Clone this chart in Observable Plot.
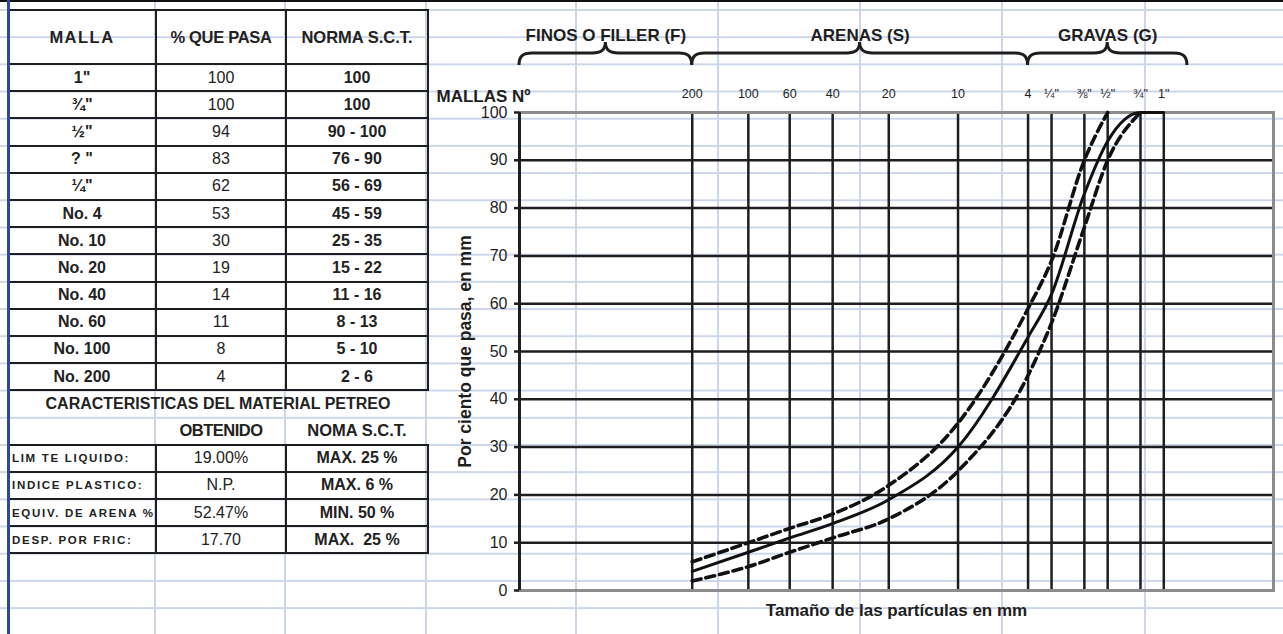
<!DOCTYPE html>
<html><head><meta charset="utf-8">
<script src="https://cdn.jsdelivr.net/npm/d3@7"></script>
<script src="https://cdn.jsdelivr.net/npm/@observablehq/plot@0.6"></script>
<style>
html,body{margin:0;padding:0;background:#fff;}
#page{position:relative;width:1283px;height:634px;overflow:hidden;font-family:"Liberation Sans",Arial,sans-serif;
 background-image:linear-gradient(#cdd6e8 0 2px, transparent 2px);background-size:100% 27.2px;background-position:0 9px;}
.vline{position:absolute;top:0;height:634px;width:2px;background:#cdd6e8;}
#topline{position:absolute;left:0;top:0;width:1283px;height:2px;background:#111;z-index:3;}
#bluebar{position:absolute;left:7px;top:0;width:2.5px;height:634px;background:#2a4b9b;z-index:3;}
#chart svg{position:absolute;left:0;top:0;}
#tbl{position:absolute;left:7px;top:9px;border-collapse:collapse;table-layout:fixed;z-index:2;color:#222;}
#tbl td{padding:0;text-align:center;vertical-align:middle;font-size:16px;white-space:pre;overflow:hidden;}
#tbl td.b{border:2px solid #1e1e1e;}
#tbl tr{height:27.2px;}
#tbl tr.h{height:54px;}
#tbl .bold{font-weight:bold;}
#tbl td.hd{font-size:16.5px;font-weight:bold;}
#tbl td.prop{text-align:left;padding-left:3px;font-size:11.5px;font-weight:bold;letter-spacing:1.7px;}
</style>
</head><body>
<div id="page">
  <div id="grid"></div>
  <div id="chart"></div>
  <table id="tbl"><colgroup><col style="width:148px"><col style="width:130px"><col style="width:142px"></colgroup><tbody id="tb"></tbody></table>
  <div id="topline"></div>
  <div id="bluebar"></div>
</div>
<script>
// ---- data ----
const sieveMM = [25.4, 19.05, 12.7, 9.525, 6.35, 4.75, 2.0, 0.85, 0.425, 0.25, 0.15, 0.075];
const sieveAxisLabels = ['1"', '¾"', '½"', '⅜"', '¼"', '4', '10', '20', '40', '60', '100', '200'];
const mallaLabels = ['1"', '¾"', '½"', '? "', '¼"', 'No. 4', 'No. 10', 'No. 20', 'No. 40', 'No. 60', 'No. 100', 'No. 200'];
const pctPasa = [100, 100, 94, 83, 62, 53, 30, 19, 14, 11, 8, 4];
const normMin = [100, 100, 90, 76, 56, 45, 25, 15, 11, 8, 5, 2];
const normMax = [100, 100, 100, 90, 69, 59, 35, 22, 16, 13, 10, 6];
const yTicks = [0, 10, 20, 30, 40, 50, 60, 70, 80, 90, 100];
const propNames = ["LIM TE LIQUIDO:", "INDICE PLASTICO:", "EQUIV. DE ARENA %", "DESP. POR FRIC:"];
const propObtained = ["19.00%", "N.P.", "52.47%", "17.70"];
const propNorm = ["MAX. 25 %", "MAX. 6 %", "MIN. 50 %", "MAX.  25 %"];
const groupNames = ["FINOS O FILLER (F)", "ARENAS (S)", "GRAVAS (G)"];
const groupFrom = [0.00888, 0.075, 4.75];
const groupTo = [0.075, 4.75, 34];
const xDomain = [0.00888, 98.5];

// ---- spreadsheet grid columns ----
const gridCols = [155, 285, 426, 576, 718, 860, 1002, 1145];
const gridEl = document.getElementById("grid");
gridCols.forEach(x => { const d = document.createElement("div"); d.className = "vline"; d.style.left = (x - 1) + "px"; gridEl.appendChild(d); });

// ---- table ----
const tb = document.getElementById("tb");
function addRow(cells, cls) {
  const tr = document.createElement("tr"); if (cls) tr.className = cls;
  cells.forEach(c => { const td = document.createElement("td"); td.textContent = c.t; td.className = c.c || ""; if (c.span) td.colSpan = c.span; tr.appendChild(td); });
  tb.appendChild(tr);
}
addRow([{t: "MALLA", c: "b hd"}, {t: "% QUE PASA", c: "b hd"}, {t: "NORMA S.C.T.", c: "b hd"}], "h");
tb.lastChild.children[0].style.letterSpacing = "1.5px";
tb.lastChild.children[1].style.letterSpacing = "-0.3px";
mallaLabels.forEach((m, i) => {
  const norma = normMin[i] === normMax[i] ? String(normMax[i]) : normMin[i] + " - " + normMax[i];
  addRow([{t: m, c: "b bold"}, {t: String(pctPasa[i]), c: "b"}, {t: norma, c: "b bold"}]);
});
addRow([{t: "CARACTERISTICAS DEL MATERIAL PETREO", c: "bold", span: 3}]);
addRow([{t: ""}, {t: "OBTENIDO", c: "hd"}, {t: "NOMA S.C.T.", c: "hd"}]);
tb.lastChild.children[1].style.letterSpacing = "-0.5px";
propNames.forEach((p, i) => addRow([{t: p, c: "b prop"}, {t: propObtained[i], c: "b"}, {t: propNorm[i], c: "b bold"}]));

// ---- chart ----
const rows = sieveMM.map((mm, i) => ({mm, pct: pctPasa[i], lo: normMin[i], hi: normMax[i], label: sieveAxisLabels[i]}));
const rowsAsc = rows.slice().sort((a, b) => a.mm - b.mm);
function upToFirst100(key) {
  const idx = rowsAsc.findIndex(r => r[key] >= 100);
  return rowsAsc.slice(0, idx + 1);
}
const groups = groupNames.map((name, i) => ({name, from: groupFrom[i], to: groupTo[i]}));

const plot = Plot.plot({
  width: 1283, height: 634,
  marginLeft: 519, marginRight: 10, marginTop: 112, marginBottom: 44,
  style: {background: "transparent", fontFamily: "'Liberation Sans', Arial, sans-serif", color: "#1e1e1e", overflow: "visible"},
  x: {type: "log", domain: xDomain, axis: null},
  y: {domain: [0, 100], axis: null},
  marks: [
    Plot.ruleY(yTicks.filter(v => v > 0 && v < 100), {stroke: "#1e1e1e", strokeWidth: 2.5}),
    Plot.ruleX(sieveMM, {stroke: "#1e1e1e", strokeWidth: 2.5}),
    Plot.frame({stroke: "#8c8c8c", strokeWidth: 3}),
    Plot.ruleX([xDomain[0]], {stroke: "#1e1e1e", strokeWidth: 3}),
    Plot.line(rowsAsc, {x: "mm", y: "pct", curve: "monotone-x", stroke: "#111", strokeWidth: 3}),
    Plot.line(upToFirst100("hi"), {x: "mm", y: "hi", curve: "monotone-x", stroke: "#111", strokeWidth: 3.6, strokeDasharray: "9,5"}),
    Plot.line(upToFirst100("lo"), {x: "mm", y: "lo", curve: "monotone-x", stroke: "#111", strokeWidth: 3.6, strokeDasharray: "9,5"}),
    Plot.axisY(yTicks, {tickSize: 5, tickPadding: 7, fontSize: 16, strokeWidth: 2.5, label: null}),
    Plot.text(rows, {x: "mm", text: "label", frameAnchor: "top", dy: -23, fontSize: 12.5}),
    Plot.text(["MALLAS Nº"], {frameAnchor: "top-left", dx: 11, dy: -23, textAnchor: "end", fontSize: 17, fontWeight: "bold"}),
    Plot.text(groups, {x: d => Math.sqrt(d.from * d.to), frameAnchor: "top", dy: -84, text: "name", fontSize: 17, fontWeight: "bold"}),
    Plot.text(["Por ciento que pasa, en mm"], {frameAnchor: "left", dx: -54, rotate: -90, textAnchor: "middle", fontSize: 17.5, fontWeight: "bold"}),
    Plot.text(["Tamaño de las partículas en mm"], {frameAnchor: "bottom", dy: 25, fontSize: 17, fontWeight: "bold"})
  ]
});
document.getElementById("chart").appendChild(plot);

// braces above the classification groups
const xs = plot.scale("x");
const g = d3.select(plot).append("g").attr("fill", "none").attr("stroke", "#1e1e1e").attr("stroke-width", 3);
groups.forEach(b => {
  const a = xs.apply(b.from), c = xs.apply(b.to), m = (a + c) / 2;
  const yt = 65, yb = 53, yp = 42, r = 13;
  g.append("path").attr("d",
    `M${a},${yt} C${a},${yb + 3} ${a + 4},${yb} ${a + r},${yb} L${m - r},${yb} C${m - 4},${yb} ${m},${yb - 3} ${m},${yp} ` +
    `C${m},${yb - 3} ${m + 4},${yb} ${m + r},${yb} L${c - r},${yb} C${c - 4},${yb} ${c},${yb + 3} ${c},${yt}`);
});
</script>
</body></html>
